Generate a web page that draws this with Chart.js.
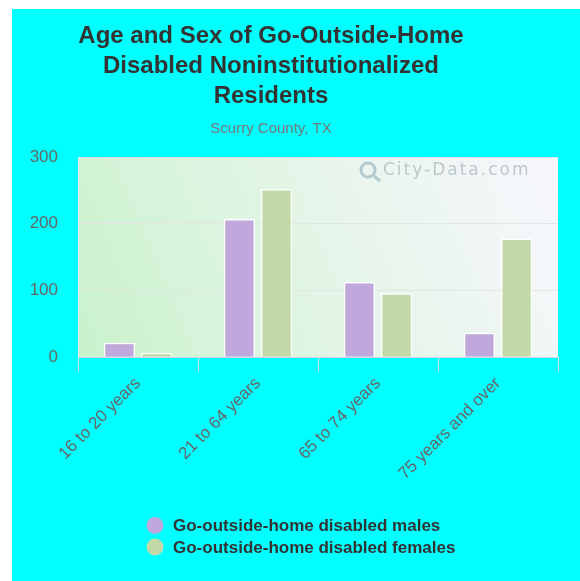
<!DOCTYPE html>
<html>
<head>
<meta charset="utf-8">
<script src="https://cdn.jsdelivr.net/npm/chart.js@4.4.1/dist/chart.umd.min.js"></script>
<style>
  html, body { margin: 0; padding: 0; background: #ffffff; }
  #wrap { position: absolute; left: 12px; top: 9px; width: 568px; height: 572px; background: #00ffff; }
  canvas { display: block; }
</style>
</head>
<body>
<div id="wrap"><canvas id="chart" width="568" height="572"></canvas></div>
<script>
// Age groups and counts of go-outside-home disabled residents
const categories = ['16 to 20 years', '21 to 64 years', '65 to 74 years', '75 years and over'];
const males = [22, 207, 113, 37];
const females = [7, 252, 96, 178];
const yTicks = [0, 100, 200, 300];

const titleLines = ['Age and Sex of Go-Outside-Home', 'Disabled Noninstitutionalized', 'Residents'];
const subtitle = 'Scurry County, TX';
const seriesNames = ['Go-outside-home disabled males', 'Go-outside-home disabled females'];
const FONT = '"Liberation Sans", Arial, sans-serif';

// Plot background, headings, watermark and the stacked legend
const decor = {
  id: 'decor',
  beforeDraw(chart) {
    const { ctx, chartArea: a } = chart;
    const g = ctx.createLinearGradient(a.left, a.bottom, a.right, a.top);
    g.addColorStop(0, '#c9f2cc');
    g.addColorStop(0.55, '#e6f5ea');
    g.addColorStop(1, '#f7f7fd');
    ctx.save();
    ctx.fillStyle = g;
    ctx.fillRect(a.left, a.top, a.right - a.left, a.bottom - a.top);
    ctx.restore();
  },
  afterDraw(chart) {
    const { ctx, chartArea: a } = chart;
    ctx.save();
    // heading
    ctx.textAlign = 'center';
    ctx.textBaseline = 'middle';
    ctx.fillStyle = '#333333';
    ctx.font = 'bold 24px ' + FONT;
    titleLines.forEach((t, i) => ctx.fillText(t, 259, 27 + i * 30));
    ctx.fillStyle = '#777777';
    ctx.font = '15px ' + FONT;
    ctx.fillText(subtitle, 259, 120);

    // watermark
    ctx.textAlign = 'left';
    ctx.font = '17px "DejaVu Sans", sans-serif';
    ctx.letterSpacing = '2px';
    ctx.fillStyle = 'rgba(150,160,170,0.55)';
    ctx.fillText('City-Data.com', a.right - 175, a.top + 14);
    ctx.letterSpacing = '0px';
    ctx.strokeStyle = 'rgba(110,150,170,0.45)';
    ctx.lineWidth = 3;
    ctx.beginPath();
    ctx.arc(a.right - 190, a.top + 13, 7, 0, Math.PI * 2);
    ctx.stroke();
    ctx.beginPath();
    ctx.moveTo(a.right - 184, a.top + 19);
    ctx.lineTo(a.right - 178, a.top + 24);
    ctx.stroke();

    // legend, one row per series, left aligned
    ctx.font = 'bold 17px ' + FONT;
    chart.data.datasets.forEach((ds, i) => {
      const y = 516.5 + i * 21.5;
      ctx.fillStyle = ds.backgroundColor;
      ctx.beginPath();
      ctx.arc(143, y, 8.5, 0, Math.PI * 2);
      ctx.fill();
      ctx.fillStyle = '#333333';
      ctx.fillText(ds.label, 161, y + 1);
    });
    ctx.restore();
  }
};

new Chart(document.getElementById('chart'), {
  type: 'bar',
  data: {
    labels: categories,
    datasets: [
      { label: seriesNames[0], data: males, backgroundColor: '#c0a8dc', borderColor: '#ffffff', borderWidth: 1.5 },
      { label: seriesNames[1], data: females, backgroundColor: '#c4d9a8', borderColor: '#ffffff', borderWidth: 1.5 }
    ]
  },
  options: {
    responsive: false,
    animation: false,
    events: [],
    categoryPercentage: 0.62,
    barPercentage: 0.84,
    layout: { padding: { top: 148, left: 17, right: 22, bottom: 95 } },
    plugins: { legend: { display: false }, tooltip: { enabled: false } },
    scales: {
      x: {
        afterFit(scale) { scale.paddingLeft = 0; scale.paddingRight = 0; },
        grid: { display: true, drawOnChartArea: false, drawTicks: true, tickLength: 14, color: '#d8e4ec' },
        border: { color: '#c8d8e4' },
        ticks: { maxRotation: 45, minRotation: 45, color: '#666666', font: { family: FONT, size: 17 }, padding: 2 }
      },
      y: {
        min: 0, max: 300,
        afterBuildTicks(scale) { scale.ticks = yTicks.map(v => ({ value: v })); },
        afterFit(scale) { scale.width = 49; },
        grid: { color: '#e2e6e2', drawTicks: false },
        border: { display: true, color: '#dfe8ea' },
        ticks: { color: '#666666', font: { family: FONT, size: 17 }, padding: 20 }
      }
    }
  },
  plugins: [decor]
});
</script>
</body>
</html>
